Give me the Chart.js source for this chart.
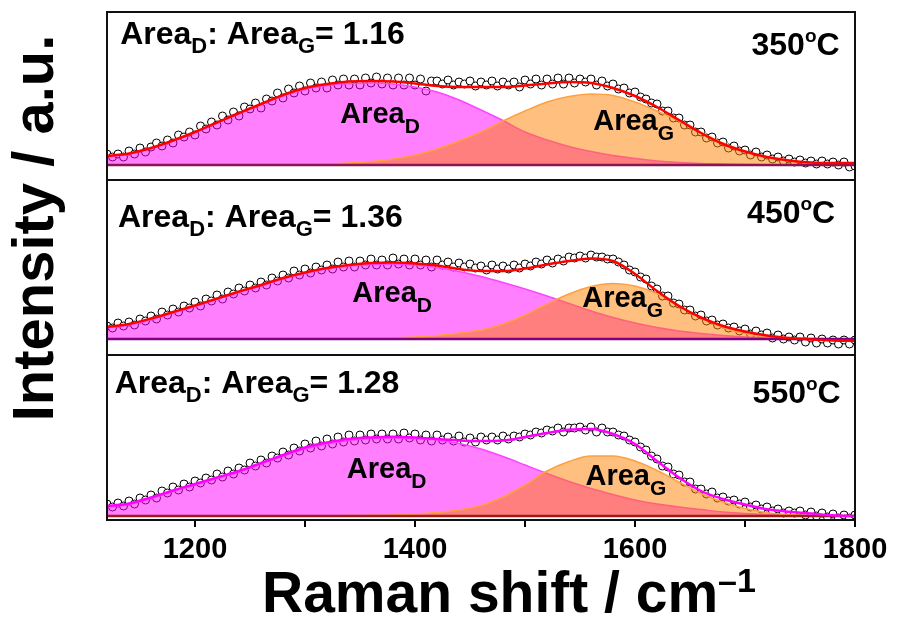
<!DOCTYPE html>
<html>
<head>
<meta charset="utf-8">
<script src="https://cdn.jsdelivr.net/npm/chart.js@4.4.1/dist/chart.umd.min.js"></script>
<style>
  html, body { margin: 0; padding: 0; background: #fff; }
</style>
</head>
<body>
<canvas id="raman" width="901" height="628"></canvas>
<script>
// Raman shift of the measured points (cm-1)
const ramanShift = [
  1120,1125,1130,1135,1140,1145,1150,1155, 1160,1165,1170,1175,1180,1185,1190,1195,
  1200,1205,1210,1215,1220,1225,1230,1235, 1240,1245,1250,1255,1260,1265,1270,1275,
  1280,1285,1290,1295,1300,1305,1310,1315, 1320,1325,1330,1335,1340,1345,1350,1355,
  1360,1365,1370,1375,1380,1385,1390,1395, 1400,1405,1410,1415,1420,1425,1430,1435,
  1440,1445,1450,1455,1460,1465,1470,1475, 1480,1485,1490,1495,1500,1505,1510,1515,
  1520,1525,1530,1535,1540,1545,1550,1555, 1560,1565,1570,1575,1580,1585,1590,1595,
  1600,1605,1610,1615,1620,1625,1630,1635, 1640,1645,1650,1655,1660,1665,1670,1675,
  1680,1685,1690,1695,1700,1705,1710,1715, 1720,1725,1730,1735,1740,1745,1750,1755,
  1760,1765,1770,1775,1780,1785,1790,1795, 1800
];

// measured intensity (a.u.), one array per annealing temperature
const counts350 = [
  11,8,11,8,14,11,17,13, 18,22,19,25,22,30,28,33,
  30,39,36,43,40,49,45,53, 49,58,56,62,57,66,64,72,
  67,76,72,79,74,82,77,83, 77,85,80,86,80,86,80,87,
  82,88,81,87,80,87,80,87, 80,86,74,84,84,81,85,80,
  83,81,84,79,83,80,84,79, 83,80,83,78,85,81,86,80,
  86,81,87,81,87,82,86,83, 86,80,84,79,81,76,77,72,
  73,68,66,62,61,54,54,47, 47,40,40,33,33,27,28,22,
  23,17,19,14,15,10,13,8, 10,6,8,4,6,3,5,2,
  4,1,4,1,3,0,3,-2, -1
];
const counts450 = [
  13,11,16,13,17,14,20,18, 23,20,27,24,30,27,33,31,
  37,33,40,38,44,40,47,45, 51,48,54,51,57,54,61,58,
  64,61,68,64,70,66,72,69, 74,70,77,72,78,72,78,74,
  80,74,79,74,81,75,80,74, 80,74,79,72,79,74,77,72,
  76,72,75,71,73,69,74,70, 73,70,74,71,75,73,77,75,
  79,76,80,78,82,81,83,81, 84,82,82,80,80,77,74,69,
  67,62,60,53,50,43,43,36, 35,29,29,23,24,18,19,14,
  15,11,12,8,10,5,8,4, 6,1,4,0,2,-1,2,-3,
  1,-4,0,-4,-1,-5,-1,-5, -1
];
const counts550 = [
  12,9,13,10,15,12,18,16, 21,18,25,23,29,26,32,29,
  35,33,38,36,42,39,45,42, 48,46,53,50,56,53,60,58,
  64,61,68,65,72,68,75,70, 77,72,79,74,81,75,81,76,
  82,77,82,77,82,77,83,78, 82,76,81,75,81,76,79,75,
  80,74,78,74,79,76,79,76, 80,77,80,79,82,81,84,83,
  86,85,88,84,88,88,89,86, 89,84,88,84,84,81,80,76,
  74,69,66,60,57,50,49,42, 41,34,34,27,27,22,24,18,
  19,15,16,12,14,9,11,7, 9,5,7,3,5,3,5,1,
  4,0,3,-1,2,-2,1,-2, 1
];

// fitted curves, sampled every 20 cm-1
const fitShift = [
  1120,1140,1160,1180,1200,1220,1240,1260,1280,1300,
  1320,1340,1360,1380,1400,1420,1440,1460,1480,1500,
  1520,1540,1560,1580,1600,1620,1640,1660,1680,1700,
  1720,1740,1760,1780,1800
];
const fit350 = [9,11.5,17,24.5,33,42.5,52,61,70,77, 81,83.5,84,83.5,81.5,79,78,78,78,79.5,
  81.5,83,82,77,69,58,45,32,21,13.5, 8,4.5,2.5,2,2];
const peakD350 = [8,11,16.5,24,32.5,42,51.5,60.5,69,75.5, 79.5,81.5,82,81,78,73,65,55,44.5,33,
  25,18.5,13.5,9.5,6.5,4,2.5,1.5,1,0.5, 0.3,0.2,0.1,0,0];
const peakG350 = [0,0,0,0,0,0,0,0,0.2,0.5, 1,2,3.5,6,10,16,24,33,44,54,
  63,68.5,71,69.5,63,54,44,32.5,22,14, 8,4,2,1,0.5];

const fit450 = [12,15,20.5,27,33.5,40.5,47.5,54,61,66.5, 71,74,76,76.5,75.5,73.5,70,68,68,70.5,
  74.5,78,80.5,78,65,48,33,21.5,13,7.5, 3.5,1,-0.5,-1.5,-2];
const peakD450 = [11,14,19.5,26,32.5,39.5,46.5,53,60,65.5, 70,73,74.5,75,74,71.5,67.5,62.5,56.5,50,
  43,35.5,28,21.5,16,11.5,8,5.5,3.5,2, 1,0.5,0.2,0,0];
const peakG450 = [0,0,0,0,0,0,0,0,0,0, 0.2,0.4,0.7,1,2,3.5,6,9,15,24,
  35,45,52.5,55.5,53,45.5,33.5,21.5,11.5,5.5, 2,1,0.5,0.2,0];

const fit550 = [10,12.5,18.5,25.5,32,38.5,45,53,61,68.5, 73.5,77,78.5,79.2,78.5,77,75.5,75,75.5,79,
  83,86.3,87,82,72,55,38.5,25,17,11.5, 6.7,4.2,2.5,0.7,0];
const peakD550 = [9,11.5,17.5,24.5,31,37.5,44,52,60,67, 72,75.5,77.5,78,77.5,76,72.5,67,59.5,51,
  42.5,34.5,27.5,21.5,16,12,9,6.5,4,2.5, 1.5,1,0.5,0,0];
const peakG550 = [0,0,0,0,0,0,0,0,0,0, 0.2,0.4,0.7,1,2,3.5,6,10.5,19,31,
  45,54.5,60,60,55,45.5,34,22.5,14,7.5, 3.3,1.5,0.5,0.2,0];

const temps = ['350', '450', '550'];
const ratios = ['1.16', '1.36', '1.28'];
const xTicks = [1200, 1300, 1400, 1500, 1600, 1700, 1800];

const panels = [
  {counts: counts350, fit: fit350, d: peakD350, g: peakG350, fitColor: '#ff0000', baseColor: '#8c1450',
   min: -15, max: 153, weight: 168, ratioAt: [1132, 121], tempAt: [1786, 110], dAt: [1332, 42], gAt: [1562, 35]},
  {counts: counts450, fit: fit450, d: peakD450, g: peakG450, fitColor: '#ff0000', baseColor: '#800080',
   min: -16, max: 159, weight: 175, ratioAt: [1130, 112], tempAt: [1782, 116], dAt: [1343, 37], gAt: [1552, 32]},
  {counts: counts550, fit: fit550, d: peakD550, g: peakG550, fitColor: '#ff00ff', baseColor: '#9c1c1c',
   min: -4, max: 161, weight: 165, ratioAt: [1127, 123], tempAt: [1787, 113], dAt: [1338, 38], gAt: [1555, 31]}
];

const FONT = '"Liberation Sans", Arial, sans-serif';
const pts = (xs, ys) => xs.map((x, i) => ({x: x, y: ys[i]}));

const datasets = [];
const scales = {
  x: {
    type: 'linear', min: 1120, max: 1800,
    afterBuildTicks: s => { s.ticks = xTicks.map(v => ({value: v})); },
    afterFit: s => { s.height = 108; },
    ticks: {
      autoSkip: false, maxRotation: 0, padding: 6, color: '#000',
      font: {family: FONT, weight: 'bold', size: 29},
      callback: v => (v % 200 === 0 ? String(v) : '')
    },
    grid: {drawOnChartArea: false, tickLength: 7, color: '#000', lineWidth: 2},
    border: {display: true, color: '#000', width: 2}
  }
};

// left-side stacked boxes are placed last-defined first, so add them bottom panel first
for (let i = panels.length - 1; i >= 0; i--) {
  const p = panels[i];
  scales['y' + i] = {type: 'linear', position: 'left', stack: 'panels', stackWeight: p.weight,
    min: p.min, max: p.max, display: false};
}

panels.forEach((p, i) => {
  const yid = 'y' + i;
  datasets.push({type: 'scatter', yAxisID: yid, data: pts(ramanShift, p.counts), order: 5,
    pointRadius: 4, pointBorderWidth: 1, pointBorderColor: '#000', pointBackgroundColor: '#fff', showLine: false});
  datasets.push({type: 'line', yAxisID: yid, data: pts(fitShift, p.d), order: 4, fill: 'origin',
    borderColor: '#ff44ff', borderWidth: 1.5, backgroundColor: 'rgba(255,0,255,0.5)',
    pointRadius: 0, cubicInterpolationMode: 'monotone'});
  datasets.push({type: 'line', yAxisID: yid, data: pts(fitShift, p.g), order: 3, fill: 'origin',
    borderColor: '#ffa040', borderWidth: 1.5, backgroundColor: 'rgba(255,128,0,0.5)',
    pointRadius: 0, cubicInterpolationMode: 'monotone'});
  datasets.push({type: 'line', yAxisID: yid, data: [{x: 1120, y: 0}, {x: 1800, y: 0}], order: 2,
    borderColor: p.baseColor, borderWidth: 2.5, pointRadius: 0, fill: false});
  datasets.push({type: 'line', yAxisID: yid, data: pts(fitShift, p.fit), order: 1, fill: false,
    borderColor: p.fitColor, borderWidth: 2.5, pointRadius: 0, cubicInterpolationMode: 'monotone'});
});

function drawParts(ctx, x, y, parts, align) {
  let w = 0;
  parts.forEach(p => { ctx.font = 'bold ' + p[1] + 'px ' + FONT; w += ctx.measureText(p[0]).width; });
  let cx = align === 'right' ? x - w : x;
  ctx.textAlign = 'left';
  ctx.textBaseline = 'alphabetic';
  parts.forEach(p => {
    ctx.font = 'bold ' + p[1] + 'px ' + FONT;
    ctx.fillText(p[0], cx, y + p[2]);
    cx += ctx.measureText(p[0]).width;
  });
}

const panelDecor = {
  id: 'panelDecor',
  afterDraw(chart) {
    const ctx = chart.ctx, area = chart.chartArea, xs = chart.scales.x;
    ctx.save();
    ctx.fillStyle = '#000';
    panels.forEach((p, i) => {
      const ys = chart.scales['y' + i];
      ctx.strokeStyle = '#111';
      ctx.lineWidth = 2;
      ctx.strokeRect(area.left, ys.top, area.right - area.left, ys.bottom - ys.top);
      const px = v => xs.getPixelForValue(v), py = v => ys.getPixelForValue(v);
      drawParts(ctx, px(p.ratioAt[0]), py(p.ratioAt[1]),
        [['Area', 32, 0], ['D', 22, 9], [': Area', 32, 0], ['G', 22, 9], ['= ' + ratios[i], 32, 0]]);
      drawParts(ctx, px(p.tempAt[0]), py(p.tempAt[1]),
        [[temps[i], 32, 0], ['o', 19, -13], ['C', 32, 0]], 'right');
      drawParts(ctx, px(p.dAt[0]), py(p.dAt[1]), [['Area', 29, 0], ['D', 21, 10]]);
      drawParts(ctx, px(p.gAt[0]), py(p.gAt[1]), [['Area', 29, 0], ['G', 21, 10]]);
    });
    // axis titles
    drawParts(ctx, 262, 612, [['Raman shift / cm', 57, 0], ['\u20131', 34, -20]]);
    ctx.translate(53, 228);
    ctx.rotate(-Math.PI / 2);
    ctx.font = 'bold 58px ' + FONT;
    ctx.textAlign = 'center';
    ctx.fillText('Intensity / a.u.', 0, 0);
    ctx.restore();
  }
};

new Chart(document.getElementById('raman'), {
  type: 'line',
  data: {datasets: datasets},
  options: {
    responsive: false,
    animation: false,
    events: [],
    layout: {padding: {left: 107, right: 46, top: 12, bottom: 0}},
    plugins: {legend: {display: false}, tooltip: {enabled: false}},
    scales: scales
  },
  plugins: [panelDecor]
});
</script>
</body>
</html>
